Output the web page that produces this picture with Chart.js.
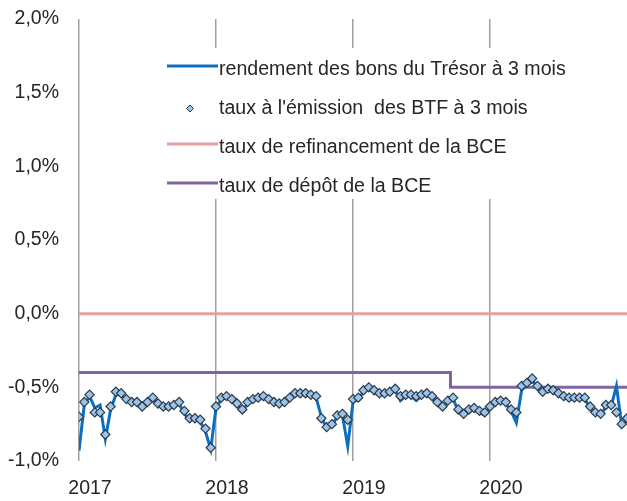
<!DOCTYPE html>
<html>
<head>
<meta charset="utf-8">
<script src="https://cdn.jsdelivr.net/npm/chart.js@4/dist/chart.umd.min.js"></script>
<style>
  html, body { margin: 0; padding: 0; background: #fff; }
  #wrap { width: 627px; height: 501px; }
</style>
</head>
<body>
<div id="wrap"><canvas id="myChart"></canvas></div>
<script>
// semaines depuis janvier 2017 (un point toutes les deux semaines)
const annees = ['2017', '2018', '2019', '2020'];
const anneeSemaines = [0, 52, 104, 156];

// rendement des bons du Tresor a 3 mois (%)
const rendement = [
  -0.93, -0.62, -0.56, -0.64, -0.62, -0.85, -0.65, -0.55, -0.55, -0.59,
  -0.61, -0.61, -0.64, -0.61, -0.58, -0.62, -0.64, -0.64, -0.63, -0.61,
  -0.68, -0.72, -0.72, -0.73, -0.80, -0.92, -0.64, -0.58, -0.57, -0.59,
  -0.62, -0.66, -0.61, -0.59, -0.58, -0.57, -0.59, -0.61, -0.62, -0.61,
  -0.58, -0.55, -0.55, -0.55, -0.56, -0.57, -0.70, -0.78, -0.76, -0.70,
  -0.69, -0.90, -0.60, -0.58, -0.53, -0.51, -0.53, -0.55, -0.55, -0.54,
  -0.52, -0.59, -0.56, -0.56, -0.59, -0.56, -0.55, -0.57, -0.61, -0.64,
  -0.60, -0.58, -0.66, -0.69, -0.66, -0.65, -0.67, -0.69, -0.64, -0.61,
  -0.60, -0.61, -0.66, -0.74, -0.52, -0.48, -0.45, -0.50, -0.54, -0.52,
  -0.53, -0.55, -0.57, -0.58, -0.58, -0.58, -0.58, -0.64, -0.68, -0.69,
  -0.63, -0.63, -0.49, -0.76, -0.72
];

// taux a l'emission des BTF a 3 mois (%)
const btf = [
  -0.70, -0.60, -0.55, -0.67, -0.67, -0.82, -0.63, -0.53, -0.54, -0.58,
  -0.60, -0.60, -0.63, -0.60, -0.57, -0.61, -0.63, -0.63, -0.62, -0.60,
  -0.66, -0.71, -0.71, -0.72, -0.78, -0.91, -0.63, -0.57, -0.56, -0.58,
  -0.61, -0.65, -0.60, -0.58, -0.57, -0.56, -0.58, -0.60, -0.61, -0.60,
  -0.57, -0.54, -0.54, -0.54, -0.55, -0.56, -0.71, -0.77, -0.75, -0.69,
  -0.68, -0.72, -0.58, -0.57, -0.52, -0.50, -0.52, -0.54, -0.54, -0.53,
  -0.51, -0.56, -0.55, -0.55, -0.56, -0.55, -0.54, -0.56, -0.60, -0.63,
  -0.59, -0.57, -0.65, -0.68, -0.65, -0.64, -0.66, -0.67, -0.63, -0.60,
  -0.59, -0.60, -0.65, -0.67, -0.49, -0.47, -0.44, -0.49, -0.53, -0.51,
  -0.52, -0.54, -0.56, -0.57, -0.57, -0.57, -0.57, -0.63, -0.67, -0.68,
  -0.62, -0.62, -0.67, -0.75, -0.71
];
const semaines = btf.map((_, i) => i * 2);

// taux directeurs de la BCE (%)
const refiSemaines = [0, 208];
const refiTaux = [0.0, 0.0];
const depotSemaines = [0, 141, 208];
const depotTaux = [-0.40, -0.50, -0.50];

const labels = [
  'rendement des bons du Trésor à 3 mois',
  "taux à l'émission  des BTF à 3 mois",
  'taux de refinancement de la BCE',
  'taux de dépôt de la BCE'
];

const pts = (xs, ys) => xs.map((x, i) => ({ x: x, y: ys[i] }));
const FONT = '"Liberation Sans", Arial, sans-serif';

// legende maison dans un cadre blanc
const legendBox = {
  id: 'legendBox',
  afterDraw(chart) {
    const ctx = chart.ctx;
    ctx.save();
    ctx.fillStyle = '#fff';
    ctx.fillRect(163, 48, 464, 151);
    chart.data.datasets.forEach(function (ds, i) {
      const y = 66 + i * 39;
      if (ds.showLine === false) {
        ctx.beginPath();
        ctx.moveTo(190, y);
        ctx.lineTo(193.5, y + 3.5);
        ctx.lineTo(190, y + 7);
        ctx.lineTo(186.5, y + 3.5);
        ctx.closePath();
        ctx.fillStyle = ds.backgroundColor;
        ctx.fill();
        ctx.lineWidth = 1;
        ctx.strokeStyle = ds.borderColor;
        ctx.stroke();
      } else {
        ctx.beginPath();
        ctx.moveTo(167, y);
        ctx.lineTo(218, y);
        ctx.lineWidth = 3;
        ctx.strokeStyle = ds.borderColor;
        ctx.stroke();
      }
      ctx.fillStyle = '#262626';
      ctx.font = '19.6px ' + FONT;
      ctx.textBaseline = 'middle';
      ctx.textAlign = 'left';
      ctx.fillText(ds.label, 219, y + 4);
    });
    ctx.restore();
  }
};

new Chart(document.getElementById('myChart'), {
  type: 'line',
  data: {
    datasets: [
      {
        label: labels[0],
        data: pts(semaines, rendement),
        borderColor: '#0A6FC2',
        borderWidth: 3,
        pointRadius: 0,
        tension: 0,
        order: 1,
      },
      {
        label: labels[1],
        data: pts(semaines, btf),
        showLine: false,
        pointStyle: 'rectRot',
        pointRadius: 4.6,
        backgroundColor: '#9DC3E6',
        borderColor: '#2B3A4A',
        borderWidth: 1.2,
        order: 0,
      },
      {
        label: labels[2],
        data: pts(refiSemaines, refiTaux),
        borderColor: '#E6A1A1',
        borderWidth: 3,
        pointRadius: 0,
        order: 3,
      },
      {
        label: labels[3],
        data: pts(depotSemaines, depotTaux),
        borderColor: '#8064A2',
        borderWidth: 3,
        pointRadius: 0,
        stepped: 'before',
        order: 2,
      },
    ],
  },
  options: {
    responsive: true,
    maintainAspectRatio: false,
    animation: false,
    layout: {
      autoPadding: false,
      padding: { top: 19, right: 0, bottom: 2, left: 0 },
    },
    plugins: {
      legend: { display: false },
      tooltip: { enabled: false },
    },
    scales: {
      x: {
        type: 'linear',
        min: 0,
        max: 208,
        afterBuildTicks: function (scale) {
          scale.ticks = anneeSemaines.map(v => ({ value: v }));
        },
        afterFit: function (scale) {
          scale.height = 38;
          scale.paddingLeft = 0;
          scale.paddingRight = 0;
        },
        grid: {
          display: true,
          color: '#A0A0A0',
          lineWidth: 1.5,
          drawTicks: false,
        },
        border: { display: false },
        ticks: {
          autoSkip: false,
          maxRotation: 0,
          labelOffset: 11,
          padding: 16,
          color: '#262626',
          font: { family: FONT, size: 19.5 },
          callback: function (v, i) { return annees[i]; },
        },
      },
      y: {
        min: -1,
        max: 2,
        afterFit: function (scale) {
          scale.width = 79;
          scale.paddingTop = 0;
          scale.paddingBottom = 0;
        },
        grid: { display: false, drawTicks: false },
        border: { display: false },
        ticks: {
          stepSize: 0.5,
          padding: 20,
          color: '#262626',
          font: { family: FONT, size: 19.5 },
          callback: function (v) { return v.toFixed(1).replace('.', ',') + '%'; },
        },
      },
    },
  },
  plugins: [legendBox],
});
</script>
</body>
</html>
